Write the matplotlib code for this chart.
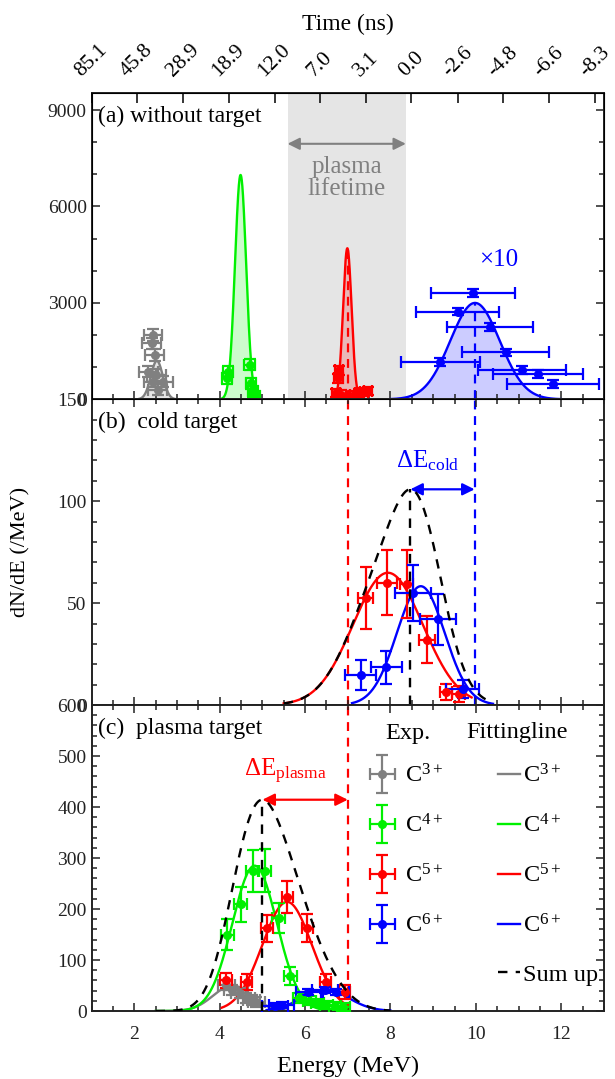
import numpy as np
import matplotlib
matplotlib.use('Agg')
import matplotlib.pyplot as plt
from matplotlib.legend_handler import HandlerErrorbar
from matplotlib.container import ErrorbarContainer
from matplotlib.ticker import MultipleLocator

plt.rcParams['font.family'] = ['Liberation Serif', 'DejaVu Serif']
plt.rcParams['mathtext.fontset'] = 'custom'
plt.rcParams['mathtext.rm'] = 'Liberation Serif'
plt.rcParams['mathtext.it'] = 'Liberation Serif:italic'
plt.rcParams['mathtext.bf'] = 'Liberation Serif:bold'

# ---------------- data ----------------
charge_labels = [r'C$^{3+}$', r'C$^{4+}$', r'C$^{5+}$', r'C$^{6+}$']
time_tick_E = [1.00, 2.07, 3.14, 4.21, 5.29, 6.36, 7.43, 8.49, 9.57, 10.64, 11.71, 12.79]
time_tick_labels = ['85.1', '45.8', '28.9', '18.9', '12.0', '7.0', '3.1', '0.0',
                    '-2.6', '-4.8', '-6.6', '-8.3']
plasma_lifetime_E = [5.59, 8.36]

# panel (a) without target
a_gray_E = [2.44, 2.41, 2.48, 2.33, 2.52, 2.45, 2.68, 2.55]
a_gray_N = [2000, 1740, 1380, 860, 760, 550, 550, 300]
a_green_E = [4.18, 4.20, 4.70, 4.74, 4.78, 4.82]
a_green_N = [660, 860, 1070, 500, 250, 100]
a_red_E = [6.80, 6.78, 6.73, 6.85, 7.27, 7.38, 7.47, 7.15]
a_red_N = [900, 650, 190, 150, 190, 220, 250, 120]
a_blue_E = [9.94, 9.57, 10.33, 10.70, 9.17, 11.07, 11.46, 11.81]
a_blue_N = [3300, 2730, 2260, 1460, 1170, 910, 790, 480]   # x10
a_blue_xerr = [0.98, 0.97, 1.00, 1.02, 0.93, 1.03, 1.05, 1.07]
# gaussian fits (amplitude, centre, sigma, E-range)
a_fit_gray = (1200, 2.53, 0.14, 2.10, 2.95)
a_fit_green = (6980, 4.49, 0.13, 3.95, 5.00)
a_fit_red = (4700, 6.99, 0.10, 6.65, 7.35)
a_fit_blue = (3000, 9.98, 0.58, 8.00, 12.00)

# panel (b) cold target
b_red_E = [7.42, 7.92, 8.38, 8.86, 9.30, 9.60]
b_red_N = [52.6, 60.1, 59.3, 32.0, 6.5, 5.5]
b_red_yerr = [15.2, 16.0, 16.6, 11.5, 4.0, 4.0]
b_red_xerr = [0.18, 0.23, 0.15, 0.18, 0.15, 0.15]
b_blue_E = [7.30, 7.90, 8.52, 9.11, 9.69]
b_blue_N = [14.8, 18.5, 55.0, 42.0, 7.7]
b_blue_yerr = [7.2, 8.2, 13.6, 12.4, 4.5]
b_blue_xerr = [0.36, 0.36, 0.42, 0.42, 0.38]
b_fit_red = (64.9, 7.94, 0.82, 5.50, 9.90)
b_fit_blue = (58.3, 8.71, 0.56, 7.10, 10.40)
b_sum_range = (5.50, 10.40)

# panel (c) plasma target
c_gray_E = [4.16, 4.30, 4.47, 4.62, 4.75, 4.86]
c_gray_N = [51, 42, 35, 25, 22, 18]
c_green_E = [4.18, 4.49, 4.77, 5.06, 5.38, 5.65, 5.87, 6.10, 6.30, 6.50, 6.70, 6.90]
c_green_N = [150, 209, 275, 275, 182, 69, 25, 20, 16, 12, 10, 8]
c_green_yerr = [31, 34, 41, 42, 29, 18, 10, 9, 8, 8, 7, 7]
c_red_E = [4.15, 4.63, 5.11, 5.58, 6.05, 6.48, 6.93]
c_red_N = [60, 57, 162, 224, 163, 57, 38]
c_red_yerr = [15, 15, 26, 31, 27, 15, 14]
c_blue_E = [5.30, 5.45, 6.08, 6.47, 6.73]
c_blue_N = [10, 12, 38, 41, 37]
c_fit_gray = (50, 4.30, 0.45, 2.50, 5.60)
c_fit_green = (285, 4.82, 0.52, 2.50, 7.00)
c_fit_red = (214, 5.58, 0.58, 4.05, 6.96)
c_fit_blue = (42, 6.47, 0.55, 5.10, 8.00)
c_sum_range = (2.50, 8.00)

E_ref_red = 7.00    # red reference line (C5+ without target)
E_ref_blue = 9.97   # blue reference line (C6+ without target)

GRAY = '#808080'
GREEN = '#00f000'
RED = '#ff0000'
BLUE = '#0000ff'


def gauss(E, p):
    A, mu, s = p[0], p[1], p[2]
    return A * np.exp(-(E - mu) ** 2 / (2 * s ** 2))


def fit_xy(p):
    E = np.linspace(p[3], p[4], 400)
    return E, gauss(E, p)


# ---------------- figure ----------------
fig = plt.figure(figsize=(6.15, 10.79), dpi=100)
L, W = 0.1488, 0.8333
ax_a = fig.add_axes([L, 0.6299, W, 0.2836])
ax_b = fig.add_axes([L, 0.3466, W, 0.2833])
ax_c = fig.add_axes([L, 0.0630, W, 0.2836])

TFS = 14
PFS = 17      # panel label font size
PLY = 0.958   # panel label top position (axes fraction)
for ax in (ax_a, ax_b, ax_c):
    ax.set_xlim(1, 13)
    ax.xaxis.set_major_locator(MultipleLocator(2))
    ax.xaxis.set_minor_locator(MultipleLocator(0.5))
    ax.tick_params(which='both', direction='in', right=True, top=True,
                   labelsize=TFS, width=1.1, colors='#222222')
    ax.tick_params(which='major', length=6)
    ax.tick_params(which='minor', length=3.5)
    for sp in ax.spines.values():
        sp.set_linewidth(1.4)
        sp.set_color('#222222')
    if ax is not ax_c:
        ax.tick_params(labelbottom=False)
ax_a.tick_params(which='both', top=False)
ax_c.tick_params(axis='x', pad=11)

errkw = dict(fmt='o', ms=5.5, capsize=4, elinewidth=1.6, capthick=1.6)

# ---- panel (a)
ax_a.set_ylim(0, 9520)
ax_a.yaxis.set_major_locator(MultipleLocator(3000))
ax_a.yaxis.set_minor_locator(MultipleLocator(1000))
ax_a.axvspan(plasma_lifetime_E[0], plasma_lifetime_E[1], color='#e5e5e5', lw=0, zorder=0)
for p, c in [(a_fit_gray, GRAY), (a_fit_green, GREEN), (a_fit_red, RED), (a_fit_blue, BLUE)]:
    E, y = fit_xy(p)
    ax_a.fill_between(E, y, color=c, alpha=0.2, lw=0, zorder=1)
    ax_a.plot(E, y, color=c, lw=1.7, zorder=3)
ax_a.errorbar(a_gray_E, a_gray_N, xerr=0.22, yerr=180, color=GRAY, zorder=2, **errkw)
ax_a.errorbar(a_green_E, a_green_N, xerr=0.12, yerr=170, color=GREEN, zorder=2, **errkw)
ax_a.errorbar(a_red_E, a_red_N, xerr=0.1, yerr=130, color=RED, zorder=2, **errkw)
ax_a.errorbar(a_blue_E, a_blue_N, xerr=a_blue_xerr, yerr=120, color=BLUE, zorder=2, **errkw)
ax_a.plot([E_ref_red, E_ref_red], [0, a_fit_red[0]], color=RED, ls=(0, (4, 3)), lw=1.6, zorder=4)
ax_a.plot([E_ref_blue, E_ref_blue], [0, a_fit_blue[0]], color=BLUE, ls=(0, (4, 3)), lw=1.6, zorder=4)
ax_a.annotate('', xy=(plasma_lifetime_E[0], 7950), xytext=(plasma_lifetime_E[1], 7950),
              arrowprops=dict(arrowstyle='<|-|>', color=GRAY, lw=1.5, mutation_scale=18,
                              shrinkA=0, shrinkB=0))
ax_a.text(6.97, 6900, 'plasma\nlifetime', color=GRAY, fontsize=18, ha='center', va='center',
          linespacing=1.0)
ax_a.text(10.54, 4335, '×10', color=BLUE, fontsize=18, ha='center', va='center')
ax_a.text(0.012, PLY, '(a) without target', transform=ax_a.transAxes, fontsize=PFS,
          ha='left', va='top')

ax_t = ax_a.twiny()
ax_t.set_xlim(1, 13)
ax_t.set_xticks(time_tick_E)
ax_t.set_xticklabels(time_tick_labels, rotation=45, ha='center')
ax_t.tick_params(direction='in', length=7, width=1.1, labelsize=15.5, pad=9)
ax_t.set_xlabel('Time (ns)', fontsize=17, labelpad=8)

# ---- panel (b)
ax_b.set_ylim(0, 150)
ax_b.yaxis.set_major_locator(MultipleLocator(50))
ax_b.yaxis.set_minor_locator(MultipleLocator(10))
ax_b.errorbar(b_red_E, b_red_N, xerr=b_red_xerr, yerr=b_red_yerr, color=RED, zorder=3, **errkw)
ax_b.errorbar(b_blue_E, b_blue_N, xerr=b_blue_xerr, yerr=b_blue_yerr, color=BLUE, zorder=3, **errkw)
for p, c in [(b_fit_red, RED), (b_fit_blue, BLUE)]:
    E, y = fit_xy(p)
    ax_b.plot(E, y, color=c, lw=1.7, zorder=2)
Es = np.linspace(b_sum_range[0], b_sum_range[1], 500)
Ss = gauss(Es, b_fit_red) + gauss(Es, b_fit_blue)
ax_b.plot(Es, Ss, color='black', ls=(0, (4, 3.5)), lw=1.7, zorder=4)
Epk, Spk = Es[np.argmax(Ss)], Ss.max()
ax_b.plot([Epk, Epk], [0, Spk], color='black', ls=(0, (4, 3.5)), lw=1.7, zorder=4)
ax_b.axvline(E_ref_red, color=RED, ls=(0, (4, 3)), lw=1.6, zorder=1)
ax_b.axvline(E_ref_blue, color=BLUE, ls=(0, (4, 3)), lw=1.6, zorder=1)
ax_b.annotate('', xy=(Epk, Spk), xytext=(E_ref_blue, Spk),
              arrowprops=dict(arrowstyle='<|-|>', color=BLUE, lw=1.6, mutation_scale=18,
                              shrinkA=0, shrinkB=0))
ax_b.text(8.88, 120, r'ΔE$_{\mathrm{cold}}$', color=BLUE, fontsize=18, ha='center', va='center')
ax_b.text(0.012, PLY, '(b)  cold target', transform=ax_b.transAxes, fontsize=PFS,
          ha='left', va='top')
ax_b.set_ylabel('dN/dE (/MeV)', fontsize=16)
ax_b.yaxis.set_label_coords(-0.12, 0.5)

# ---- panel (c)
ax_c.set_ylim(0, 600)
ax_c.yaxis.set_major_locator(MultipleLocator(100))
ax_c.yaxis.set_minor_locator(MultipleLocator(20))
h_gray = ax_c.errorbar(c_gray_E, c_gray_N, xerr=0.2, yerr=10, color=GRAY, zorder=3, **errkw)
h_green = ax_c.errorbar(c_green_E, c_green_N, xerr=0.15, yerr=c_green_yerr, color=GREEN, zorder=3, **errkw)
h_red = ax_c.errorbar(c_red_E, c_red_N, xerr=0.13, yerr=c_red_yerr, color=RED, zorder=3, **errkw)
h_blue = ax_c.errorbar(c_blue_E, c_blue_N, xerr=0.3, yerr=6, color=BLUE, zorder=3, **errkw)
fits_c = [(c_fit_gray, GRAY), (c_fit_green, GREEN), (c_fit_red, RED), (c_fit_blue, BLUE)]
line_handles = []
for p, c in fits_c:
    E, y = fit_xy(p)
    ln, = ax_c.plot(E, y, color=c, lw=1.7, zorder=2)
    line_handles.append(ln)
Es = np.linspace(c_sum_range[0], c_sum_range[1], 500)
Ss = sum(gauss(Es, p) for p, _ in fits_c)
sum_ln, = ax_c.plot(Es, Ss, color='black', ls=(0, (4, 3.5)), lw=1.7, zorder=4)
Epk, Spk = Es[np.argmax(Ss)], Ss.max()
ax_c.plot([Epk, Epk], [0, Spk], color='black', ls=(0, (4, 3.5)), lw=1.7, zorder=4)
ax_c.axvline(E_ref_red, color=RED, ls=(0, (4, 3)), lw=1.6, zorder=1)
ax_c.annotate('', xy=(Epk, Spk), xytext=(E_ref_red, Spk),
              arrowprops=dict(arrowstyle='<|-|>', color=RED, lw=1.6, mutation_scale=18,
                              shrinkA=0, shrinkB=0))
ax_c.text(5.55, 469, r'ΔE$_{\mathrm{plasma}}$', color=RED, fontsize=18, ha='center', va='center')
ax_c.text(0.012, PLY, '(c)  plasma target', transform=ax_c.transAxes, fontsize=PFS,
          ha='left', va='top')
ax_c.set_xlabel('Energy (MeV)', fontsize=17.5, labelpad=9)

# legends
LFS = 17.5
leg1 = ax_c.legend([h_gray, h_green, h_red, h_blue], charge_labels, loc='upper left',
                   bbox_to_anchor=(0.494, 0.878), frameon=False, fontsize=LFS,
                   handlelength=1.3, handletextpad=0.28, labelspacing=1.1,
                   handler_map={ErrorbarContainer: HandlerErrorbar(xerr_size=0.52, yerr_size=0.78)})
ax_c.add_artist(leg1)
leg2 = ax_c.legend(line_handles + [sum_ln], charge_labels + ['Sum up'], loc='upper left',
                   bbox_to_anchor=(0.751, 0.878), frameon=False, fontsize=LFS,
                   handlelength=0.9, handletextpad=0.12, labelspacing=1.1)
ax_c.text(0.618, 0.906, 'Exp.', transform=ax_c.transAxes, fontsize=LFS, ha='center', va='center')
ax_c.text(0.83, 0.91, 'Fittingline', transform=ax_c.transAxes, fontsize=LFS, ha='center', va='center')

fig.savefig('out.png', dpi=100)
